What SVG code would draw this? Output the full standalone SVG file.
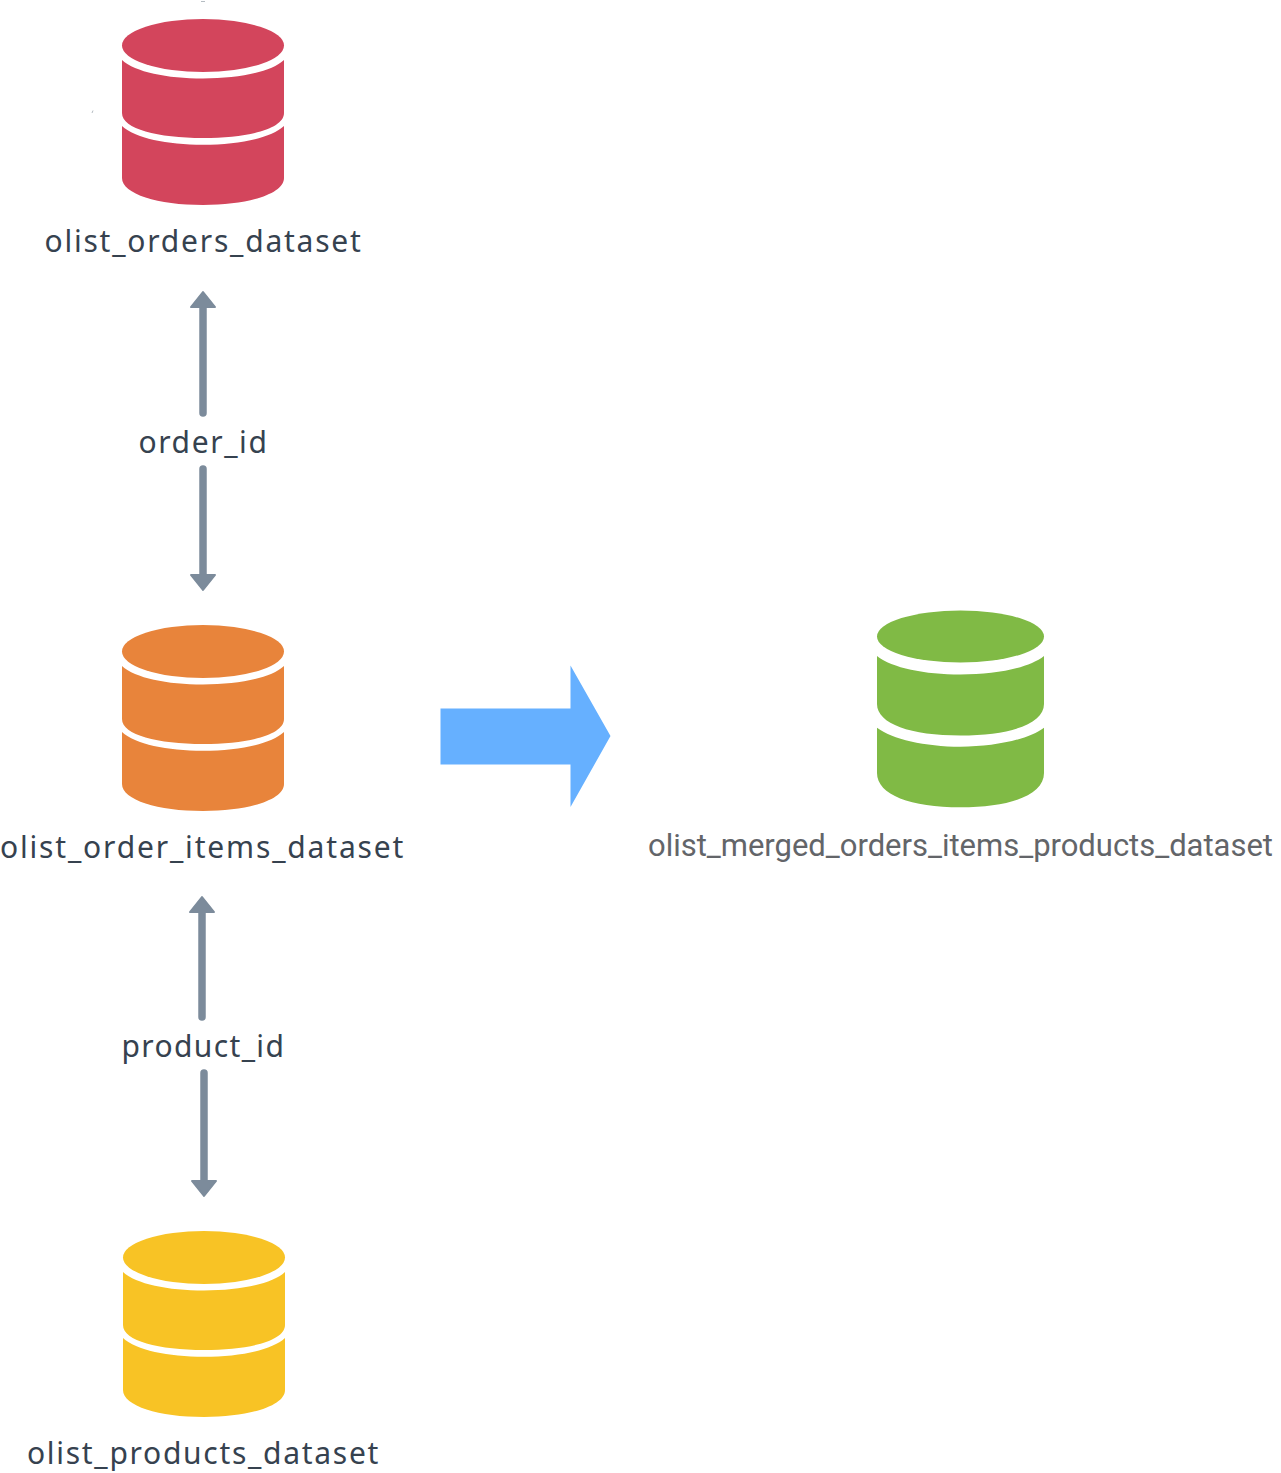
<svg xmlns="http://www.w3.org/2000/svg" width="1281" height="1473" viewBox="0 0 1281 1473">
<style>
.din{font-family:"Noto Sans","Liberation Sans",sans-serif;font-size:30px;fill:#36424f;text-anchor:middle;letter-spacing:.6px}
.rob{font-family:Roboto,"Liberation Sans",sans-serif;font-size:31px;fill:#636569;text-anchor:middle}
.shaft{fill:none;stroke:#7c8b9b;stroke-width:7.5;stroke-linecap:round}
.head{fill:#7c8b9b;stroke:#7c8b9b;stroke-width:2;stroke-linejoin:round}
.speck{fill:none;stroke:#b5bcc2;stroke-width:1}
</style>
<defs>
<symbol id="db" overflow="visible">
<ellipse cx="0" cy="26.500" rx="81" ry="26.500"/>
<path d="M-81 41C-68 53-36 59.500 0 59.500S68 53 81 41V94C81 110 45 119 0 119S-81 110-81 94Z"/>
<path d="M-81 107C-68 119-36 125.800 0 125.800S68 119 81 107V159C81 175 45 186 0 186S-81 175-81 159Z"/>
</symbol>
</defs>
<rect width="1281" height="1473" fill="#fff"/>
<path class="speck" d="M201 1.500H205M93 110.500L92 113"/>
<g id="connectors">
<path class="shaft" d="M203 306V413"/><path class="head" d="M203 292L191 307H215Z"/>
<path class="shaft" d="M203 469V576"/><path class="head" d="M203 590L191 575H215Z"/>
<path class="shaft" d="M202 911V1017"/><path class="head" d="M202 897L190 912H214Z"/>
<path class="shaft" d="M204 1073V1182"/><path class="head" d="M204 1196L192 1181H216Z"/>
<path id="merge-arrow" fill="#66b0ff" d="M440.500 708.500H570.500V665.500L610.500 736L570.500 807V764.500H440.500Z"/>
</g>
<g id="olist_orders_dataset" fill="#d3455c"><use href="#db" x="203" y="19"/><text class="din" x="203" y="252" textLength="317">olist_orders_dataset</text></g>
<g id="order_id"><text class="din" x="203" y="453" textLength="129">order_id</text></g>
<g id="olist_order_items_dataset" fill="#e8843b"><use href="#db" x="203" y="625"/><text class="din" x="202" y="858" textLength="404">olist_order_items_dataset</text></g>
<g id="product_id"><text class="din" x="203" y="1057" textLength="163">product_id</text></g>
<g id="olist_products_dataset" fill="#f8c325"><use href="#db" x="204" y="1231"/><text class="din" x="203" y="1464" textLength="352">olist_products_dataset</text></g>
<g id="olist_merged_orders_items_products_dataset" fill="#80ba45">
<ellipse cx="960.500" cy="636.500" rx="83.500" ry="26"/>
<path d="M877 656C892 668 925 674.500 960.500 674.500S1029 668 1044 656V704C1044 724 1010 735.500 960.500 735.500S877 724 877 704Z"/>
<path d="M877 727.700C892 739 925 746.700 960.500 746.700S1029 739 1044 727.700V773C1044 795 1010 807.300 960.500 807.300S877 795 877 773Z"/>
<text class="rob" x="960.500" y="856" textLength="625">olist_merged_orders_items_products_dataset</text></g>
</svg>
